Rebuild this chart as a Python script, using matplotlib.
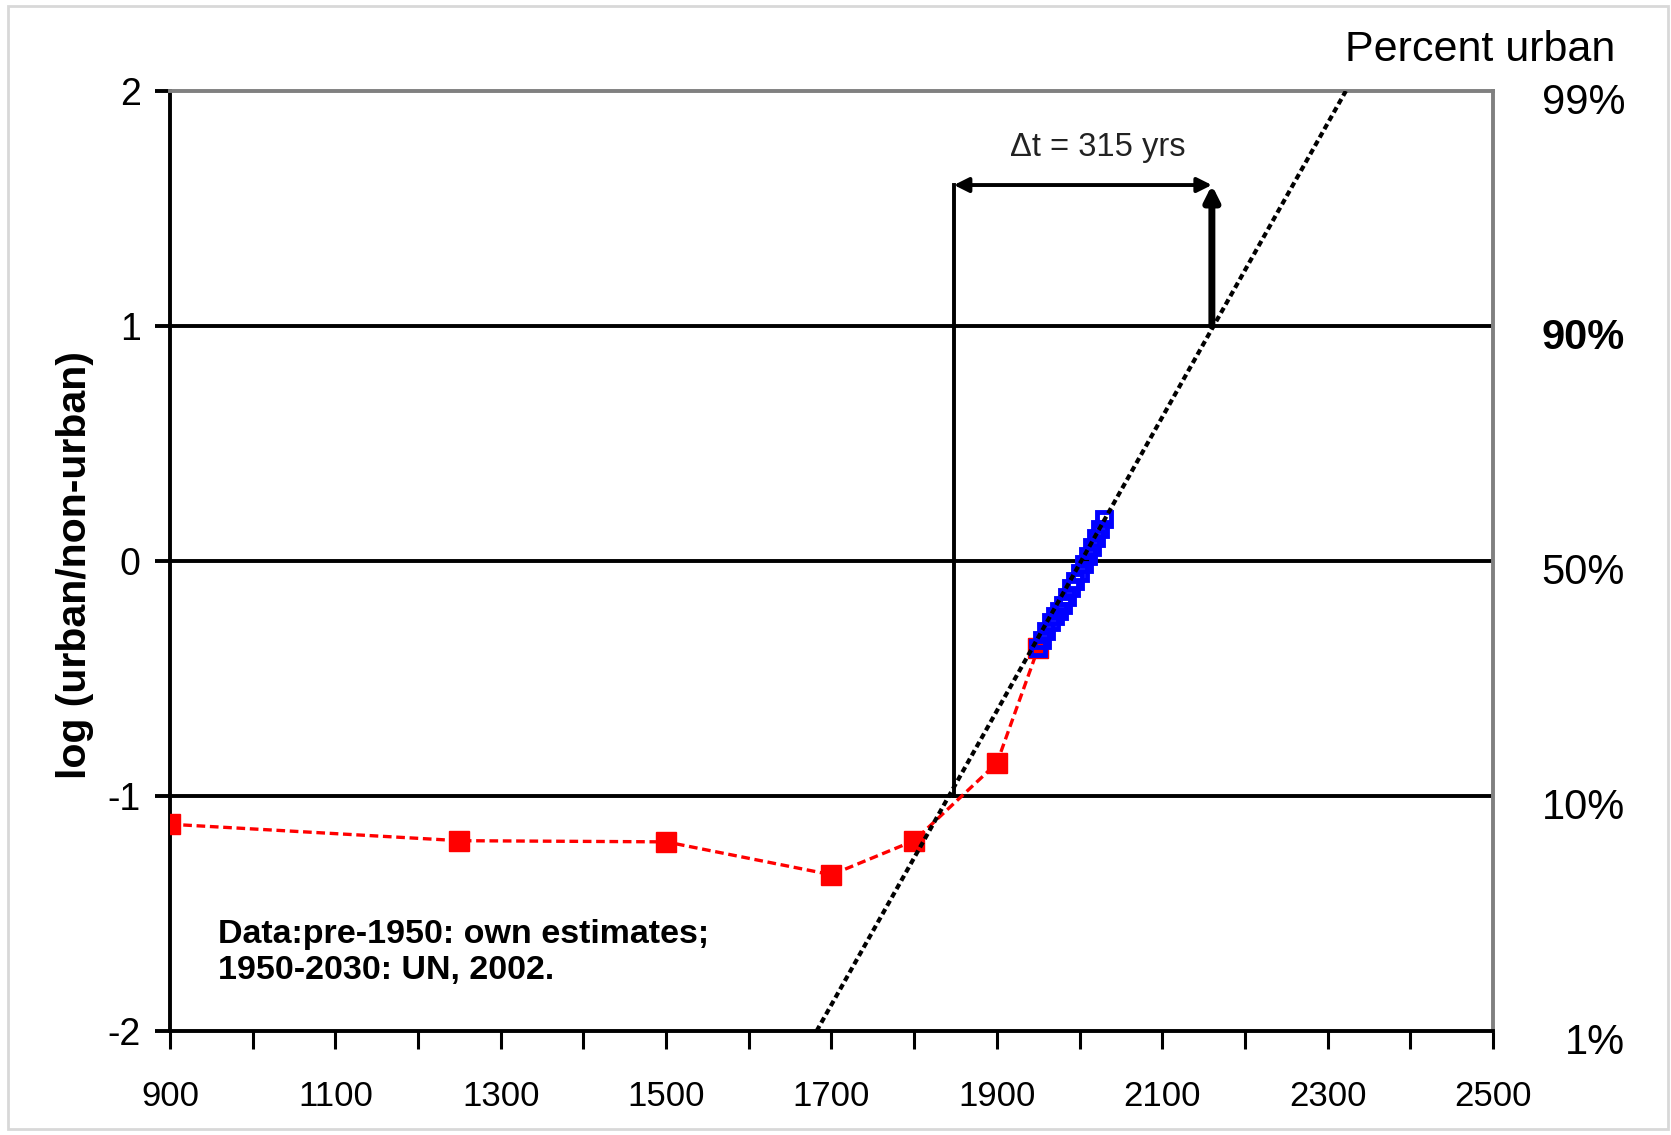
import matplotlib
matplotlib.use("Agg")
import matplotlib.pyplot as plt
from matplotlib.patches import Rectangle
from matplotlib.transforms import blended_transform_factory

plt.rcParams['font.family'] = ['Liberation Sans', 'DejaVu Sans']
plt.rcParams['axes.unicode_minus'] = False

# dane: szacunki przed 1950 (czerwone)
red_years = [900, 1250, 1500, 1700, 1800, 1900, 1950]
red_log = [-1.12, -1.19, -1.195, -1.335, -1.19, -0.86, -0.37]

# dane UN 2002, 1950-2030 (niebieskie)
un_years = [1950, 1955, 1960, 1965, 1970, 1975, 1980, 1985, 1990,
            1995, 2000, 2005, 2010, 2015, 2020, 2025, 2030]
un_log = [-0.372, -0.335, -0.296, -0.259, -0.235, -0.214, -0.187, -0.154, -0.114,
          -0.085, -0.049, -0.014, 0.023, 0.061, 0.098, 0.135, 0.180]

# linia trendu
trend_years = [1682, 2322]
trend_log = [-2, 2]

# strzalka delta t
t10 = 1848
t90 = 2160
arrow_y = 1.6
dt_label = "\u0394t = 315 yrs"

x_ticks = list(range(900, 2501, 100))
x_labels = [str(t) if (t - 900) % 200 == 0 else "" for t in x_ticks]
y_ticks = [-2, -1, 0, 1, 2]
pct_labels = ["1%", "10%", "50%", "90%", "99%"]
note = "Data:pre-1950: own estimates;\n1950-2030: UN, 2002."

fig = plt.figure(figsize=(16.71, 11.35), dpi=100)
ax = fig.add_axes([0.1017, 0.0916, 0.7918, 0.8282])
ax.set_xlim(900, 2500)
ax.set_ylim(-2, 2)

# siatka
for yv in [-1, 0, 1]:
    ax.axhline(yv, color='black', lw=2.8, zorder=1)

ax.plot(red_years, red_log, color='red', lw=2.4, dashes=(2.6, 1.4),
        marker='s', ms=15, mfc='red', mec='red', zorder=3)
ax.plot(un_years, un_log, ls='none', marker='s', ms=10.5, mfc='none',
        mec='blue', mew=3.5, zorder=4)
ax.plot(trend_years, trend_log, color='black', lw=3, dashes=(1.4, 0.9), zorder=5)

# strzalki
ax.plot([t10, t10], [-1, arrow_y], color='black', lw=2.8, zorder=2)
ax.annotate("", xy=(t10, arrow_y), xytext=(t90, arrow_y),
            arrowprops=dict(arrowstyle='<|-|>', color='black', lw=2.8,
                            mutation_scale=22, shrinkA=0, shrinkB=0))
ax.annotate("", xy=(t90, arrow_y), xytext=(t90, 1),
            arrowprops=dict(arrowstyle='-|>', color='black', lw=5,
                            mutation_scale=22, shrinkA=0, shrinkB=0))
ax.text((t10 + t90) / 2 + 18, 1.76, dt_label, fontsize=23.5, color='#222222',
        ha='center', va='center')

ax.text(958, -1.667, note, fontsize=24.5, fontweight='bold', ha='left',
        va='center', linespacing=1.2)

# osie
ax.spines['left'].set_linewidth(2.8)
ax.spines['bottom'].set_linewidth(2.8)
ax.spines['top'].set_color('#808080')
ax.spines['right'].set_color('#808080')
ax.spines['top'].set_linewidth(2.8)
ax.spines['right'].set_linewidth(2.8)

ax.set_xticks(x_ticks)
ax.set_xticklabels(x_labels)
ax.set_yticks(y_ticks)
ax.tick_params(axis='x', length=13, width=2.2, pad=22, labelsize=25)
ax.tick_params(axis='y', length=11, width=2.8, pad=10, labelsize=27)

# prawa skala procentowa
tr = blended_transform_factory(ax.transAxes, ax.transData)
for yv, lab in zip(y_ticks, pct_labels):
    ax.text(1.0998, yv - 0.05, lab, transform=tr, ha='right', va='center',
            fontsize=30, fontweight='bold' if lab == "90%" else 'normal')
ax.text(1.0922, 1.0436, "Percent urban", transform=ax.transAxes,
        ha='right', va='center', fontsize=31)

fig.text(0.045, 0.502, "log (urban/non-urban)", rotation=90, ha='center',
         va='center', fontsize=29.5, fontweight='bold')

# ramka wokol obrazka
fig.patches.append(Rectangle((0.005, 0.005), 0.993, 0.99, transform=fig.transFigure,
                             fill=False, edgecolor='#d8d8d8', lw=2))

fig.savefig("out.png", dpi=100)
